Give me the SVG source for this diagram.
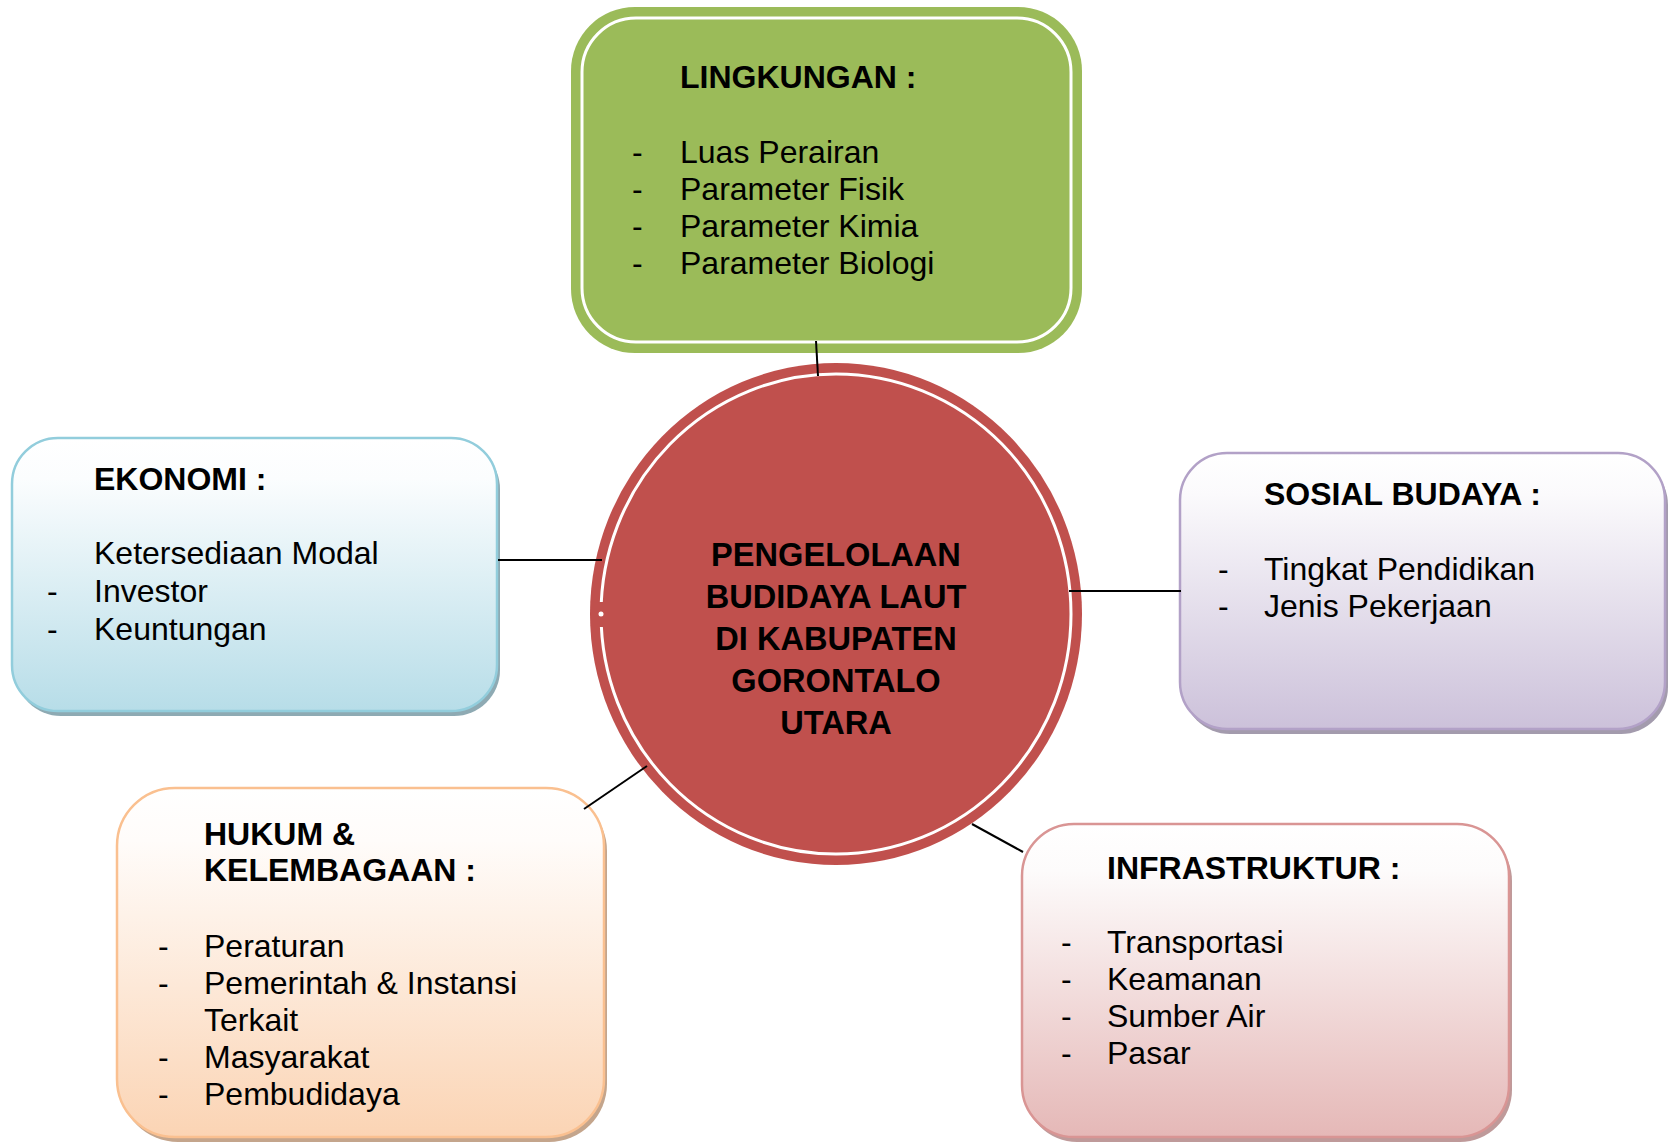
<svg xmlns="http://www.w3.org/2000/svg" width="1675" height="1144" viewBox="0 0 1675 1144">
<style>
text{font-family:"Liberation Sans",Arial,sans-serif;font-size:32px;fill:#000}
.b{font-weight:bold}
.c{text-anchor:middle;font-size:32.6px}
.conn line{stroke:#000;stroke-width:2}
</style>
<defs>
<linearGradient id="gBlue" x1="0" y1="0" x2="0" y2="1"><stop offset="0" stop-color="#ffffff"/><stop offset="0.15" stop-color="#fbfdfe"/><stop offset="1" stop-color="#b7dde8"/></linearGradient>
<linearGradient id="gPurple" x1="0" y1="0" x2="0" y2="1"><stop offset="0" stop-color="#ffffff"/><stop offset="0.15" stop-color="#fbfafc"/><stop offset="1" stop-color="#ccc1da"/></linearGradient>
<linearGradient id="gOrange" x1="0" y1="0" x2="0" y2="1"><stop offset="0" stop-color="#ffffff"/><stop offset="0.15" stop-color="#fffcfa"/><stop offset="1" stop-color="#fbd4b4"/></linearGradient>
<linearGradient id="gRed" x1="0" y1="0" x2="0" y2="1"><stop offset="0" stop-color="#ffffff"/><stop offset="0.15" stop-color="#fdfbfb"/><stop offset="1" stop-color="#e5b8b7"/></linearGradient>
</defs>
<rect width="1675" height="1144" fill="#ffffff"/>

<g id="lingkungan">
<rect x="571" y="7" width="511" height="346" rx="64" fill="#9bbb59"/>
<rect x="582" y="18" width="489" height="324" rx="54" fill="none" stroke="#ffffff" stroke-width="3"/>
<text class="b" x="680" y="88">LINGKUNGAN :</text>
<text x="632" y="163">-</text><text x="680" y="163">Luas Perairan</text>
<text x="632" y="200">-</text><text x="680" y="200">Parameter Fisik</text>
<text x="632" y="237">-</text><text x="680" y="237">Parameter Kimia</text>
<text x="632" y="274">-</text><text x="680" y="274">Parameter Biologi</text>
</g>

<g id="pusat">
<ellipse cx="836" cy="614" rx="246" ry="251" fill="#c0504d"/>
<ellipse cx="836" cy="614" rx="235" ry="240" fill="none" stroke="#ffffff" stroke-width="3"/>
<rect x="597" y="602" width="9" height="25" fill="#c0504d"/>
<circle cx="601" cy="614" r="2.5" fill="#ffffff"/>
<text class="b c" x="836" y="566">PENGELOLAAN</text>
<text class="b c" x="836" y="608">BUDIDAYA LAUT</text>
<text class="b c" x="836" y="650">DI KABUPATEN</text>
<text class="b c" x="836" y="692">GORONTALO</text>
<text class="b c" x="836" y="734">UTARA</text>
</g>

<g id="ekonomi">
<rect x="15" y="443" width="485" height="273" rx="46" fill="#8eaab3"/>
<rect x="12" y="438" width="485" height="273" rx="46" fill="url(#gBlue)" stroke="#92cddc" stroke-width="2.5"/>
<text class="b" x="94" y="490">EKONOMI :</text>
<text x="94" y="564">Ketersediaan Modal</text>
<text x="47" y="602">-</text><text x="94" y="602">Investor</text>
<text x="47" y="640">-</text><text x="94" y="640">Keuntungan</text>
</g>

<g id="sosial-budaya">
<rect x="1183" y="458" width="485" height="276" rx="47" fill="#a39bad"/>
<rect x="1180" y="453" width="485" height="276" rx="47" fill="url(#gPurple)" stroke="#b2a1c7" stroke-width="2.5"/>
<text class="b" x="1264" y="505">SOSIAL BUDAYA :</text>
<text x="1218" y="580">-</text><text x="1264" y="580">Tingkat Pendidikan</text>
<text x="1218" y="617">-</text><text x="1264" y="617">Jenis Pekerjaan</text>
</g>

<g id="hukum">
<rect x="120" y="793" width="487" height="349" rx="58" fill="#c4a58c"/>
<rect x="117" y="788" width="487" height="349" rx="58" fill="url(#gOrange)" stroke="#fac090" stroke-width="2.5"/>
<text class="b" x="204" y="845">HUKUM &amp;</text>
<text class="b" x="204" y="881">KELEMBAGAAN :</text>
<text x="158" y="957">-</text><text x="204" y="957">Peraturan</text>
<text x="158" y="994">-</text><text x="204" y="994">Pemerintah &amp; Instansi</text>
<text x="204" y="1031">Terkait</text>
<text x="158" y="1068">-</text><text x="204" y="1068">Masyarakat</text>
<text x="158" y="1105">-</text><text x="204" y="1105">Pembudidaya</text>
</g>

<g id="infrastruktur">
<rect x="1025" y="829" width="487" height="313" rx="52" fill="#bf9a9a"/>
<rect x="1022" y="824" width="487" height="313" rx="52" fill="url(#gRed)" stroke="#d99594" stroke-width="2.5"/>
<text class="b" x="1107" y="879">INFRASTRUKTUR :</text>
<text x="1061" y="953">-</text><text x="1107" y="953">Transportasi</text>
<text x="1061" y="990">-</text><text x="1107" y="990">Keamanan</text>
<text x="1061" y="1027">-</text><text x="1107" y="1027">Sumber Air</text>
<text x="1061" y="1064">-</text><text x="1107" y="1064">Pasar</text>
</g>

<g id="connectors" class="conn">
<line x1="816" y1="341" x2="818" y2="376"/>
<line x1="498" y1="560" x2="602" y2="560"/>
<line x1="1069" y1="591" x2="1181" y2="591"/>
<line x1="584" y1="809" x2="647" y2="766"/>
<line x1="972" y1="824" x2="1023" y2="852"/>
</g>
</svg>
